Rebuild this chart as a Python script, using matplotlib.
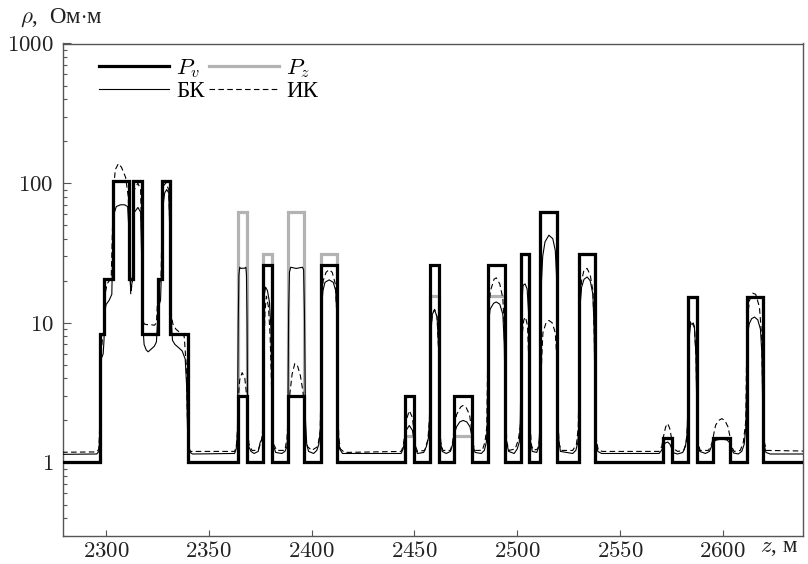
import numpy as np
import matplotlib
matplotlib.use("Agg")
import matplotlib.pyplot as plt
from matplotlib.ticker import FixedLocator, FixedFormatter, LogLocator, NullFormatter
from matplotlib.lines import Line2D

plt.rcParams['mathtext.fontset'] = 'cm'
plt.rcParams['font.family'] = ['Liberation Serif', 'DejaVu Serif']

# ---- data ----
pv_edges = [2270, 2297.2, 2299.2, 2303.2, 2311.3, 2313.2, 2317.4, 2325.1, 2327.1, 2331.1, 2339.7,
            2364.1, 2368.4, 2376.5, 2380.5, 2388.7, 2396.5, 2404.6, 2412.5, 2445.4, 2449.8,
            2457.6, 2462.1, 2469.4, 2477.9, 2485.6, 2494.0, 2501.8, 2505.9, 2511.3, 2519.5,
            2530.2, 2537.8, 2571.0, 2575.1, 2583.2, 2587.3, 2595.4, 2603.5, 2611.6, 2619.4, 2650]
pv_vals = [1.0, 8.3, 20.5, 104, 20.5, 104, 8.3, 20.5, 104, 8.3, 1.0,
           3.0, 1.0, 26, 1.0, 3.0, 1.0, 26, 1.0, 3.0, 1.0,
           26, 1.0, 3.0, 1.0, 26, 1.0, 31, 1.0, 62, 1.0,
           31, 1.0, 1.5, 1.0, 15.3, 1.0, 1.5, 1.0, 15.3, 1.0]
pz_vals = [1.0, 8.3, 20.5, 104, 20.5, 104, 8.3, 20.5, 104, 8.3, 1.0,
           62, 1.0, 31, 1.0, 62, 1.0, 31, 1.0, 1.55, 1.0,
           15.5, 1.0, 1.55, 1.0, 15.5, 1.0, 31, 1.0, 62, 1.0,
           31, 1.0, 1.5, 1.0, 15.3, 1.0, 1.5, 1.0, 15.3, 1.0]

bk_pts = [(2270,1.14),(2295.5,1.15),(2296.5,1.2),(2297.0,1.6),(2297.4,4.5),(2297.8,5.6),(2298.6,6.0),(2299.0,7.5),(2299.4,12),(2300.0,13.5),(2301.5,14.5),(2302.8,16),(2303.3,40),(2303.8,60),(2305,68),(2307,70),(2309,70),(2310.5,68),(2311.0,50),(2311.4,25),(2312.0,17),(2312.8,20),(2313.3,45),(2313.8,62),(2315.5,67),(2316.8,62),(2317.3,30),(2317.8,10),(2318.5,7.0),(2319.5,6.4),(2320.5,6.2),(2322,6.5),(2323.5,6.8),(2324.5,7.3),(2325.0,10),(2325.5,13),(2326.5,14.5),(2327.0,25),(2327.5,65),(2328.5,85),(2329.5,90),(2330.5,85),(2331.0,45),(2331.5,12),(2332.3,7.5),(2333.5,7.0),(2335,6.7),(2337,6.3),(2338.5,5.5),(2339.2,3.5),(2339.6,1.8),(2340.0,1.3),(2341.0,1.18),(2342,1.15),(2362.5,1.16),(2363.3,1.25),(2363.9,1.6),(2364.3,10),(2364.6,22),(2365.0,25),(2365.5,24.5),(2366.2,24.6),(2367.4,24.6),(2368.0,25),(2368.3,22),(2368.6,10),(2368.9,1.8),(2369.4,1.3),(2370.5,1.2),(2372,1.16),(2374.0,1.2),(2375.0,1.4),(2375.8,1.45),(2376.3,1.6),(2376.7,8),(2377.0,16),(2377.6,18),(2378.5,17),(2379.5,14),(2380.2,9),(2380.7,2.5),(2381.2,1.35),(2382.5,1.18),(2385.5,1.16),(2387.0,1.2),(2388.0,1.3),(2388.4,1.6),(2388.8,12),(2389.2,23),(2389.8,25),(2392.5,24.5),(2395.5,25),(2396.1,24),(2396.5,12),(2397.0,2),(2397.6,1.35),(2398.5,1.2),(2401,1.16),(2402.5,1.22),(2403.5,1.35),(2404.2,1.7),(2404.6,4),(2405.0,14),(2405.5,17),(2406.5,19.5),(2408.5,20.3),(2410.5,19.5),(2411.7,17),(2412.2,12),(2412.6,4),(2413.0,1.6),(2413.6,1.25),(2415,1.16),(2443.5,1.16),(2444.5,1.25),(2445.3,1.45),(2446.0,1.7),(2447.5,1.84),(2449.0,1.7),(2449.8,1.45),(2450.5,1.25),(2451.5,1.16),(2454.5,1.18),(2455.8,1.3),(2456.8,1.5),(2457.3,2.0),(2457.7,5),(2458.1,9),(2458.7,11.5),(2459.8,12.4),(2461.0,11),(2461.7,7),(2462.2,2.5),(2462.7,1.4),(2463.5,1.2),(2465.5,1.16),(2467.5,1.2),(2468.6,1.35),(2469.4,1.6),(2470.5,1.8),(2472,1.95),(2473.7,2.0),(2475.5,1.95),(2477,1.8),(2477.9,1.55),(2478.6,1.3),(2479.5,1.18),(2482.5,1.16),(2484,1.22),(2485,1.4),(2485.4,1.9),(2485.7,5),(2486.1,10),(2486.8,12.5),(2488.5,13.8),(2489.8,14.1),(2491.5,13.6),(2493.0,11.5),(2493.7,7),(2494.2,2.5),(2494.8,1.4),(2495.8,1.2),(2498.5,1.16),(2500,1.25),(2501,1.4),(2501.5,2),(2501.9,6),(2502.3,14),(2502.8,18.5),(2503.8,19),(2504.8,17.5),(2505.5,12),(2506.0,3),(2506.5,1.4),(2507.3,1.2),(2509.5,1.18),(2510.5,1.3),(2511.0,1.8),(2511.4,6),(2511.8,20),(2512.4,30),(2513.5,38),(2515.4,42.4),(2517.3,40),(2518.5,33),(2519.1,22),(2519.6,5),(2520.1,1.5),(2521,1.2),(2527,1.16),(2528.5,1.22),(2529.5,1.4),(2530.0,2),(2530.3,5),(2530.7,14),(2531.3,18),(2532.5,20.5),(2534,21.3),(2535.5,20),(2536.8,16),(2537.4,9),(2537.9,2.5),(2538.4,1.4),(2539.2,1.2),(2541,1.16),(2569,1.16),(2570.2,1.22),(2571.0,1.3),(2572,1.38),(2573.2,1.4),(2574.3,1.35),(2575.2,1.25),(2576.2,1.17),(2578,1.15),(2580.5,1.18),(2581.8,1.3),(2582.6,1.6),(2583.0,2.5),(2583.3,4),(2583.7,8),(2584.3,9.7),(2585.2,9.9),(2586.2,9.2),(2586.9,6),(2587.4,2.2),(2587.9,1.35),(2588.8,1.2),(2591.5,1.16),(2593.5,1.2),(2594.5,1.3),(2595.2,1.38),(2596,1.42),(2597,1.45),(2599.5,1.47),(2602,1.45),(2603.5,1.38),(2604.3,1.25),(2605.2,1.17),(2607.5,1.15),(2609.2,1.2),(2610.4,1.35),(2611.2,1.8),(2611.6,4),(2612.0,8),(2612.8,9.8),(2614,10.7),(2615.4,11),(2617,10.5),(2618.3,9),(2619.0,6),(2619.5,2),(2620.0,1.35),(2621.0,1.18),(2623,1.15),(2650,1.15)]

ik_pts = [(2270,1.18),(2295.5,1.19),(2296.5,1.25),(2297.0,2.0),(2297.5,6),(2298.2,7.5),(2299.0,9),(2299.5,16),(2300.5,19),(2302.5,21),(2303.0,40),(2303.6,90),(2304.5,125),(2306,138),(2307.5,130),(2309.5,110),(2310.8,80),(2311.3,40),(2312.0,16),(2312.8,20),(2313.3,50),(2313.8,90),(2315.5,100),(2316.8,90),(2317.3,40),(2317.8,12),(2318.5,9.8),(2320,9.7),(2322,9.7),(2323.5,9.6),(2324.5,10),(2325.0,14),(2326,19),(2326.8,22),(2327.2,60),(2327.8,95),(2329,100),(2330.5,90),(2331.0,50),(2331.5,12),(2332.5,9.8),(2334,9.0),(2336,8.5),(2338,8.0),(2339.0,5.0),(2339.6,2.0),(2340.2,1.3),(2341,1.2),(2362.5,1.2),(2363.3,1.28),(2363.9,1.7),(2364.4,3.0),(2365.0,3.9),(2366.2,4.4),(2367.5,4.0),(2368.2,3.2),(2368.8,1.8),(2369.5,1.35),(2371,1.22),(2374.0,1.22),(2375.0,1.35),(2375.8,1.5),(2376.4,1.9),(2376.8,6),(2377.3,12),(2378.0,15.5),(2379.0,13),(2379.8,8),(2380.4,4),(2380.8,2),(2381.5,1.35),(2383,1.22),(2387,1.22),(2388.0,1.5),(2388.8,2.5),(2389.5,3.2),(2390.5,4.3),(2391.8,5.1),(2393,5.0),(2394.5,4.2),(2395.8,3.2),(2396.6,2.2),(2397.2,1.5),(2398,1.3),(2400,1.22),(2403,1.3),(2404.2,1.7),(2404.5,4),(2405.0,15),(2405.6,20),(2407,23),(2408.5,24),(2410,23),(2411.5,19),(2412.2,12),(2412.7,3),(2413.2,1.5),(2414,1.25),(2416,1.18),(2443.5,1.2),(2444.5,1.3),(2445.3,1.6),(2446.0,2.0),(2447.5,2.35),(2449.0,2.1),(2449.9,1.6),(2450.6,1.3),(2451.5,1.2),(2455,1.22),(2456.5,1.45),(2457.3,2.0),(2457.6,4),(2458.0,9),(2458.7,11.5),(2459.8,12.5),(2461.0,11),(2461.8,6),(2462.3,2.2),(2462.8,1.4),(2463.8,1.22),(2467.5,1.22),(2468.6,1.4),(2469.2,1.7),(2470.5,2.2),(2472.5,2.5),(2473.7,2.56),(2475,2.5),(2476.8,2.2),(2477.9,1.7),(2478.6,1.35),(2479.5,1.22),(2483,1.22),(2484.3,1.4),(2485.2,1.8),(2485.6,5),(2486.0,12),(2487,17),(2488.7,20.5),(2489.8,21),(2491.5,19),(2493,15),(2493.7,9),(2494.3,2.5),(2494.9,1.4),(2496,1.22),(2499,1.25),(2500.5,1.45),(2501.5,1.8),(2501.9,3),(2502.3,8),(2503.2,10.5),(2504.0,11),(2505.0,9.5),(2505.7,5),(2506.2,2),(2506.8,1.35),(2507.8,1.22),(2510,1.25),(2510.8,1.45),(2511.2,2),(2511.6,4),(2512.0,6),(2512.5,8.5),(2514,10),(2515.4,10.4),(2517,10),(2518.5,8.5),(2519.3,5.5),(2519.8,2),(2520.4,1.35),(2521.5,1.22),(2527,1.22),(2528.8,1.35),(2529.7,1.8),(2530.1,5),(2530.6,15),(2531.3,20),(2532.5,24),(2534,24.5),(2535.5,22),(2536.8,17),(2537.5,8),(2538.0,2.2),(2538.6,1.4),(2539.5,1.22),(2541.5,1.2),(2569,1.2),(2570.3,1.3),(2571.2,1.55),(2572.2,1.8),(2573.2,1.9),(2574.2,1.75),(2575.2,1.45),(2576.2,1.25),(2578,1.2),(2581,1.22),(2582.2,1.4),(2582.9,1.9),(2583.2,3),(2583.6,8.5),(2584.4,10.2),(2585.3,10.3),(2586.2,9.4),(2587.0,5.5),(2587.5,2),(2588.1,1.35),(2589,1.22),(2593,1.22),(2594.5,1.35),(2595.3,1.5),(2595.6,1.6),(2596.5,1.85),(2598,2.0),(2599.5,2.06),(2601,2.0),(2602.5,1.8),(2603.6,1.5),(2604.5,1.28),(2605.5,1.2),(2608.5,1.22),(2610,1.4),(2611.2,2),(2611.5,5),(2612.0,11),(2613,14.5),(2614.5,16.3),(2616,16),(2617.8,13),(2618.9,8),(2619.5,2.5),(2620.2,1.4),(2621.2,1.22),(2650,1.2)]

x_ticks = [2300, 2350, 2400, 2450, 2500, 2550, 2600]
y_ticks = [1, 10, 100, 1000]
y_ticklabels = ['$1$', '$10$', '$100$', '$1000$']

FS = 16.5

# ---- plot ----
fig = plt.figure(figsize=(8.08, 5.64), dpi=100)
ax = fig.add_axes([63.3/808, 1-535.5/564, (803-63.3)/808, (535.5-43.5)/564])

ax.stairs(pz_vals, pv_edges, color='#b3b3b3', lw=2.3, baseline=None, zorder=2)
ax.stairs(pv_vals, pv_edges, color='black', lw=2.3, baseline=None, zorder=3)
bk = np.array(bk_pts)
ik = np.array(ik_pts)
ax.plot(bk[:, 0], bk[:, 1], color='black', lw=0.8, zorder=4)
ax.plot(ik[:, 0], ik[:, 1], color='black', lw=0.8, ls=(0, (5, 3)), zorder=4)

ax.set_yscale('log')
ax.set_xlim(2279.2, 2639)
ax.set_ylim(0.3, 1000)

ax.xaxis.set_major_locator(FixedLocator(x_ticks))
ax.xaxis.set_major_formatter(FixedFormatter(['$%d$' % t for t in x_ticks]))
ax.yaxis.set_major_locator(FixedLocator(y_ticks))
ax.yaxis.set_major_formatter(FixedFormatter(y_ticklabels))
ax.yaxis.set_minor_locator(LogLocator(base=10, subs=np.arange(2, 10)))
ax.yaxis.set_minor_formatter(NullFormatter())
ax.tick_params(axis='x', which='both', direction='in', length=4.3, width=0.8,
               color='#555555', labelsize=FS, pad=4, labelcolor='#222222')
ax.tick_params(axis='y', which='major', direction='in', length=5.5, width=0.8,
               color='#555555', labelsize=FS, pad=7, labelcolor='#222222')
ax.tick_params(axis='y', which='minor', direction='in', length=3, width=0.8, color='#555555')
for s in ax.spines.values():
    s.set_color('#555555')
    s.set_linewidth(1.0)

handles = [Line2D([], [], color='black', lw=2.3),
           Line2D([], [], color='black', lw=0.8),
           Line2D([], [], color='#b3b3b3', lw=2.3),
           Line2D([], [], color='black', lw=0.8, ls=(0, (5, 3)))]
labels = ['$P_v$', 'БК', '$P_z$', 'ИК']
ax.legend(handles, labels, ncol=2, loc='upper left', bbox_to_anchor=(0.03, 1.0),
          frameon=False, fontsize=FS, handlelength=3.05, handletextpad=0.3,
          columnspacing=0.2, labelspacing=0.05, borderaxespad=0.2)

fig.text(20/808, 1-18/564, r'$\rho$,  Ом$\cdot$м', fontsize=FS, va='center', ha='left', color='#222222')
fig.text(760/808, 1-548/564, r'$z$, м', fontsize=FS, va='center', ha='left', color='#222222')

fig.savefig('out.png', dpi=100)
